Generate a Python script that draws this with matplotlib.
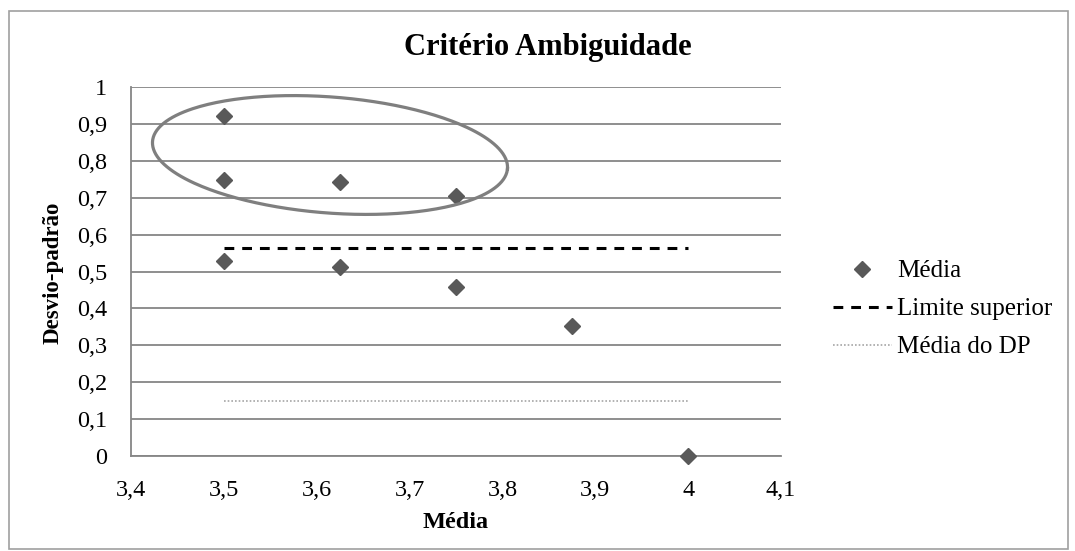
import numpy as np
import matplotlib
matplotlib.use('Agg')
import matplotlib.pyplot as plt
from matplotlib.patches import Rectangle

plt.rcParams['font.family'] = ['Liberation Serif', 'DejaVu Serif']

# data
media = [3.5, 3.5, 3.5, 3.625, 3.625, 3.75, 3.75, 3.875, 4.0]
desvio = [0.922, 0.749, 0.529, 0.742, 0.512, 0.704, 0.457, 0.352, 0.0]
lim_x = [3.5, 4.0]
lim_sup = [0.563, 0.563]
dp_x = [3.5, 4.0]
media_dp = [0.150, 0.150]

x_ticks = [3.4, 3.5, 3.6, 3.7, 3.8, 3.9, 4.0, 4.1]
x_labels = ['3,4', '3,5', '3,6', '3,7', '3,8', '3,9', '4', '4,1']
y_ticks = [0, 0.1, 0.2, 0.3, 0.4, 0.5, 0.6, 0.7, 0.8, 0.9, 1.0]
y_labels = ['0', '0,1', '0,2', '0,3', '0,4', '0,5', '0,6', '0,7', '0,8', '0,9', '1']

W, H = 1075, 551
fig = plt.figure(figsize=(W / 100, H / 100), dpi=100)
ax = fig.add_axes([131 / W, 1 - 456 / H, 650 / W, 369 / H])

grid_col = '#868686'
ax.plot(lim_x, lim_sup, color='black', lw=2.2, linestyle=(0, (3.2, 2.6)),
        label='Limite superior', zorder=3)
ax.plot(dp_x, media_dp, color='#a6a6a6', lw=1.2, linestyle=(0, (1, 1.2)),
        label='Média do DP', zorder=3)
ax.plot(media, desvio, linestyle='none', marker='D', ms=8.5, color='#595959',
        label='Média', zorder=4, clip_on=False)

ax.set_xlim(3.4, 4.1)
ax.set_ylim(0, 1)
ax.set_xticks(x_ticks)
ax.set_xticklabels(x_labels)
ax.set_yticks(y_ticks)
ax.set_yticklabels(y_labels)
ax.tick_params(length=0, labelsize=17.5)
ax.tick_params(axis='x', pad=17)
ax.tick_params(axis='y', pad=17)
ax.yaxis.grid(True, color=grid_col, lw=1.3)
ax.set_axisbelow(True)
for s in ['top', 'right']:
    ax.spines[s].set_visible(False)
for s in ['left', 'bottom']:
    ax.spines[s].set_color(grid_col)
    ax.spines[s].set_linewidth(1.3)

ax.set_xlabel('Média', fontsize=17.5, fontweight='bold')
ax.xaxis.set_label_coords(0.5, (456 - 512) / 369)
ax.set_ylabel('Desvio-padrão', fontsize=16.5, fontweight='bold')
ax.yaxis.set_label_coords((64 - 131) / 650, 0.5 + (456 - 273 - 184.5) / 369)
fig.text(548 / W, 1 - 47 / H, 'Critério Ambiguidade', ha='center', va='center',
         fontsize=22, fontweight='bold')

# ellipse drawn around the high points (screen pixels -> axes fraction)
t = np.linspace(0, 2 * np.pi, 300)
th = np.deg2rad(-4.4)
a, b = 178, 58
cx, cy = 330 - 131, 456 - 155
ex = cx + a * np.cos(t) * np.cos(th) - b * np.sin(t) * np.sin(th)
ey = cy + a * np.cos(t) * np.sin(th) + b * np.sin(t) * np.cos(th)
ax.plot(ex / 650, ey / 369, transform=ax.transAxes, color='#7f7f7f', lw=2.3,
        zorder=5, clip_on=False)

handles, labels = ax.get_legend_handles_labels()
order = [2, 0, 1]
ax.legend([handles[i] for i in order], [labels[i] for i in order],
          loc='center left', bbox_to_anchor=(833 / W, 1 - 309 / H),
          bbox_transform=fig.transFigure, frameon=False, fontsize=18,
          handlelength=2.35, handletextpad=0.2, labelspacing=0.62,
          borderpad=0, borderaxespad=0, numpoints=1)

fig.patches.append(Rectangle((9 / W, 1 - 549 / H), 1059 / W, 538 / H,
                             transform=fig.transFigure, fill=False,
                             edgecolor='#a0a0a0', lw=1.2))

fig.savefig('out.png', dpi=100)
